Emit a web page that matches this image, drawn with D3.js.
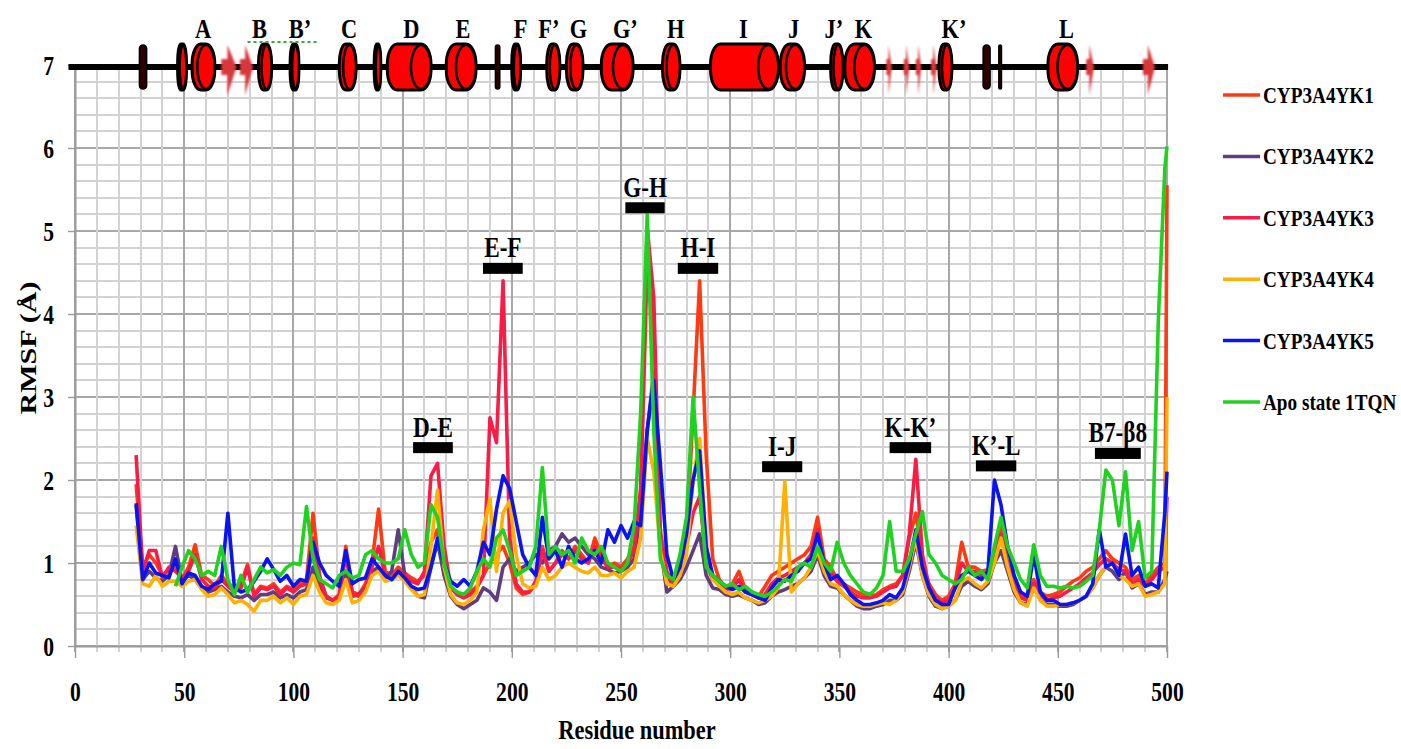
<!DOCTYPE html>
<html>
<head>
<meta charset="utf-8">
<title>RMSF per residue</title>
<style>
  body { margin: 0; background: #fff; }
  svg { font-family: "Liberation Serif", "Times New Roman", serif; font-weight: bold; }
  .grid line { shape-rendering: crispEdges; }
  .axis path, .axis line { stroke: #9a9a9a; }
</style>
</head>
<body>
<svg width="1401" height="749"></svg>
<script src="https://cdn.jsdelivr.net/npm/d3@7"></script>
<script>
// residue numbers sampled along the chain
var residues = [
  28,31,34,37,40,43,46,49,52,55,
  58,61,64,67,70,73,76,79,82,85,
  88,91,94,97,100,103,106,109,112,115,
  118,121,124,127,130,133,136,139,142,145,
  148,151,154,157,160,163,166,169,172,175,
  178,181,184,187,190,193,196,199,202,205,
  208,211,214,217,220,223,226,229,232,235,
  238,241,244,247,250,253,256,259,262,265,
  268,271,274,277,280,283,286,289,292,295,
  298,301,304,307,310,313,316,319,322,325,
  328,331,334,337,340,343,346,349,352,355,
  358,361,364,367,370,373,376,379,382,385,
  388,391,394,397,400,403,406,409,412,415,
  418,421,424,427,430,433,436,439,442,445,
  448,451,454,457,460,463,466,469,472,475,
  478,481,484,487,490,493,496,499,500
];

// RMSF (Å) for each system, one value per residue above
var yk1 = [
  1.95,0.95,1.1,1.0,0.85,0.92,0.95,0.8,0.95,1.22,
  0.85,0.8,0.72,0.85,0.75,0.7,0.75,0.98,0.62,0.72,
  0.7,0.75,0.65,0.72,0.68,0.75,0.8,1.6,0.85,0.6,
  0.55,0.62,1.2,0.65,0.62,0.75,1.0,1.65,0.9,0.85,
  0.95,0.88,0.82,0.78,0.85,1.25,1.4,1.0,0.7,0.62,
  0.6,0.65,0.72,0.85,1.0,1.1,1.2,1.0,0.7,0.62,
  0.65,0.75,1.2,0.9,1.0,1.15,1.05,1.2,1.1,1.0,
  1.3,1.1,0.95,1.0,0.95,1.05,1.2,1.8,4.6,3.8,
  1.4,0.9,0.75,0.95,1.3,2.8,4.4,2.3,1.05,0.8,
  0.7,0.75,0.9,0.68,0.65,0.6,0.72,0.85,0.9,0.95,
  1.0,1.05,1.1,1.2,1.55,1.05,0.95,0.8,0.75,0.7,
  0.65,0.62,0.6,0.62,0.68,0.72,0.75,0.85,1.3,1.6,
  1.0,0.75,0.62,0.55,0.6,0.75,1.25,0.95,0.95,0.9,
  0.92,1.1,1.45,1.0,0.75,0.6,0.58,0.8,0.65,0.6,
  0.62,0.65,0.72,0.78,0.82,0.9,0.95,1.05,1.15,1.05,
  1.0,0.95,0.8,0.85,0.75,0.85,0.95,1.0,5.55
];
var yk2 = [
  1.7,0.8,0.9,0.82,0.78,0.85,1.2,0.78,0.85,0.8,
  0.7,0.65,0.68,0.72,0.65,0.6,0.58,0.62,0.55,0.62,
  0.62,0.65,0.58,0.62,0.58,0.65,0.68,0.95,0.72,0.58,
  0.55,0.58,0.9,0.6,0.62,0.7,0.9,0.95,0.82,0.9,
  1.4,0.85,0.7,0.6,0.58,0.95,1.25,0.85,0.6,0.5,
  0.45,0.5,0.55,0.7,0.65,0.55,0.95,1.05,0.9,0.95,
  1.0,1.1,1.0,1.15,1.2,1.35,1.25,1.3,1.2,1.1,
  1.05,0.95,0.92,0.88,0.9,0.95,1.05,1.6,2.6,3.3,
  1.2,0.65,0.72,0.8,0.95,1.15,1.35,0.85,0.7,0.68,
  0.62,0.6,0.62,0.58,0.55,0.5,0.52,0.6,0.65,0.68,
  0.72,0.75,0.82,0.9,1.1,0.85,0.72,0.7,0.62,0.55,
  0.48,0.45,0.45,0.48,0.5,0.55,0.55,0.62,0.9,1.25,
  0.85,0.6,0.48,0.45,0.48,0.55,0.72,0.78,0.72,0.68,
  0.75,1.0,1.15,0.9,0.65,0.52,0.5,0.75,0.55,0.5,
  0.5,0.48,0.48,0.5,0.55,0.6,0.7,0.85,0.95,0.9,
  0.8,0.9,0.7,0.75,0.62,0.65,0.65,0.8,0.9
];
var yk3 = [
  2.3,0.9,1.15,1.15,0.82,0.95,0.9,0.82,0.9,1.1,
  0.8,0.72,0.7,0.8,0.72,0.65,0.7,0.95,0.6,0.7,
  0.68,0.72,0.62,0.7,0.65,0.72,0.75,1.3,0.8,0.6,
  0.55,0.6,1.1,0.62,0.6,0.7,0.95,1.2,0.85,0.8,
  0.9,0.85,0.78,0.75,0.9,2.05,2.2,1.2,0.72,0.62,
  0.58,0.62,0.7,0.85,2.75,2.45,4.4,1.3,0.75,0.65,
  0.65,0.78,1.15,0.9,1.0,1.1,1.05,1.15,1.05,1.0,
  1.2,1.05,0.95,0.95,0.92,1.0,1.15,1.9,5.05,4.2,
  1.3,0.85,0.72,0.9,1.2,1.6,1.8,1.0,0.8,0.75,
  0.68,0.7,0.8,0.65,0.62,0.58,0.62,0.75,0.82,0.85,
  0.9,0.95,1.0,1.1,1.4,1.0,0.88,0.78,0.72,0.65,
  0.6,0.58,0.58,0.6,0.65,0.7,0.72,0.85,1.35,2.25,
  1.1,0.72,0.58,0.52,0.55,0.7,1.0,0.9,0.9,0.85,
  0.88,1.05,1.35,0.95,0.7,0.58,0.55,0.75,0.62,0.55,
  0.58,0.6,0.65,0.7,0.75,0.82,0.88,0.98,1.05,1.0,
  0.92,0.9,0.75,0.8,0.72,0.8,0.9,0.95,1.8
];
var yk4 = [
  1.45,0.75,0.72,0.85,0.72,0.78,0.78,0.72,0.78,0.8,
  0.68,0.6,0.62,0.7,0.62,0.52,0.55,0.5,0.42,0.55,
  0.55,0.6,0.52,0.58,0.5,0.6,0.62,0.85,0.65,0.52,
  0.5,0.55,0.8,0.52,0.55,0.65,0.85,0.9,0.78,0.8,
  0.85,0.78,0.68,0.6,0.62,1.2,1.88,0.95,0.62,0.52,
  0.5,0.55,0.65,1.4,1.78,0.9,1.6,1.75,1.1,0.75,
  0.7,0.72,0.95,0.8,0.85,0.95,1.0,0.95,0.9,0.88,
  0.95,0.85,0.85,0.88,0.82,0.9,0.95,1.3,2.5,2.1,
  1.15,0.75,0.72,0.85,1.1,2.0,2.5,1.2,0.8,0.72,
  0.65,0.62,0.65,0.58,0.55,0.52,0.55,0.6,0.7,1.98,
  0.65,0.75,0.82,0.95,1.15,0.9,0.75,0.72,0.62,0.55,
  0.5,0.48,0.48,0.5,0.52,0.5,0.55,0.65,0.95,1.3,
  0.85,0.62,0.5,0.45,0.48,0.55,0.78,0.82,0.75,0.7,
  0.78,1.0,1.3,0.95,0.68,0.52,0.48,0.7,0.55,0.48,
  0.48,0.5,0.5,0.52,0.55,0.6,0.7,0.85,0.95,1.0,
  0.85,0.8,0.72,0.75,0.6,0.62,0.65,0.75,3.0
];
var yk5 = [
  1.72,0.8,1.0,0.88,0.85,0.82,1.05,0.75,0.88,0.85,
  0.72,0.68,0.75,0.78,1.6,0.7,0.65,0.68,0.78,0.9,
  1.05,0.92,0.78,0.85,0.72,0.8,0.78,1.25,1.0,0.85,
  0.78,0.72,1.15,0.75,0.8,0.82,1.05,0.95,0.85,0.8,
  0.9,0.82,0.72,0.68,0.7,0.95,1.3,1.0,0.78,0.72,
  0.8,0.72,0.9,1.25,1.1,1.65,2.05,1.9,1.5,1.1,
  0.95,0.85,1.55,1.05,1.15,0.95,1.2,1.05,1.0,1.05,
  1.15,1.0,1.4,1.25,1.45,1.3,1.5,1.45,2.6,3.2,
  2.2,1.1,0.8,0.95,1.35,2.0,2.35,1.2,0.85,0.78,
  0.72,0.68,0.72,0.65,0.62,0.58,0.55,0.7,0.8,0.78,
  0.85,0.9,1.0,1.05,1.35,1.0,0.8,0.85,0.75,0.62,
  0.55,0.5,0.5,0.52,0.55,0.62,0.58,0.7,1.0,1.4,
  0.95,0.7,0.55,0.5,0.5,0.7,0.85,0.9,0.85,0.8,
  0.9,2.0,1.7,1.2,0.85,0.65,0.6,1.1,0.65,0.55,
  0.55,0.5,0.5,0.52,0.55,0.6,0.75,1.4,0.95,1.0,
  0.85,1.35,0.85,0.95,0.72,0.75,0.7,1.6,2.1
];
// apo structure has no data before residue 46
var apo = [
  null,null,null,null,null,null,0.72,0.95,1.15,1.05,
  0.85,0.9,0.85,1.2,0.8,0.62,0.85,0.65,0.8,0.95,
  0.88,0.92,0.85,0.95,1.0,0.98,1.68,1.05,0.8,0.75,
  0.7,0.85,0.9,0.82,0.85,1.1,1.15,1.05,1.0,1.0,
  1.05,1.4,1.1,0.95,1.0,1.7,1.55,1.0,0.72,0.65,
  0.62,0.7,0.9,1.05,0.95,1.3,1.4,1.15,0.85,0.9,
  0.95,1.2,2.15,1.1,1.2,1.1,1.15,1.0,1.3,1.15,
  1.1,1.2,1.0,0.95,0.9,1.0,1.45,2.8,5.2,2.6,
  1.05,0.85,0.8,1.1,1.55,3.0,1.9,0.95,0.85,0.78,
  0.72,0.75,0.68,0.72,0.65,0.62,0.6,0.65,0.72,0.8,
  0.78,0.95,1.0,0.95,1.2,1.0,0.9,1.25,1.0,0.85,
  0.75,0.65,0.62,0.7,0.85,1.5,0.9,0.9,1.05,1.35,
  1.62,1.1,1.0,0.85,0.8,0.75,0.8,0.95,0.85,0.9,
  0.8,1.2,1.55,1.2,1.0,0.8,0.7,1.22,0.85,0.72,
  0.72,0.7,0.72,0.7,0.72,0.78,0.85,1.4,2.12,2.0,
  1.45,2.1,1.15,1.5,0.82,0.9,3.9,5.75,6.02
];

var seriesNames = ["CYP3A4YK1", "CYP3A4YK2", "CYP3A4YK3", "CYP3A4YK4", "CYP3A4YK5", "Apo state 1TQN"];
var seriesColors = ["#ff3a12", "#5f3d80", "#f81c47", "#ffb000", "#0a14f2", "#1fd21f"];
var seriesValues = [yk1, yk2, yk3, yk4, yk5, apo];

// secondary structure along the top (residue ranges)
var helices = [
  [47, 51], [53.6, 64], [84, 90], [98.5, 102.5], [121, 128.7], [137, 140],
  [143, 163], [170, 183.6], [200, 204], [216, 222], [225, 232.6], [241, 255.5],
  [269, 277], [291, 322], [323, 334], [346, 351.6], [352.5, 366], [395.6, 401.5],
  [445.5, 459]
];
var darkBars = [[29.5, 32.8], [192.5, 194.5], [415.8, 419], [423, 424.2]];
var strands = [[67, 74], [75.5, 81.5], [371.5, 374], [379.5, 382], [385, 387.5],
               [392, 394.5], [463, 466.6], [489, 494.5]];
var helixLabels = ["A", "B", "B\u2019", "C", "D", "E", "F", "F\u2019", "G", "G\u2019",
                   "H", "I", "J", "J\u2019", "K", "K\u2019", "L"];
var helixLabelPos = [58.6, 84.5, 103, 125.5, 154, 177.6, 204, 217, 230.5, 252,
                     275, 306, 329, 347.5, 361, 402.5, 454];

// loop annotations: label, residue span of the bar, height of the bar
var loopLabels = ["D-E", "E-F", "G-H", "H-I", "I-J", "K-K\u2019", "K\u2019-L", "B7-\u03b28"];
var loopSpans = [[154.8, 173], [186.8, 205], [252, 270], [276, 294.5],
                 [314.6, 333], [373, 392], [412.5, 431], [467, 488]];
var loopLevels = [2.39, 4.55, 5.28, 4.55, 2.16, 2.39, 2.17, 2.32];

var svg = d3.select("svg");
var x = d3.scaleLinear().domain([0, 500]).range([75, 1167]);
var y = d3.scaleLinear().domain([0, 7]).range([646, 65]);

// text in this figure is horizontally condensed
function squish(sel, tx, ty) {
  return sel.attr("transform", "translate(" + tx + "," + ty + ") scale(0.8,1)");
}

// grid
var grid = svg.append("g").attr("class", "grid");
grid.selectAll(".hminor").data(d3.range(0, 7.01, 0.2)).enter().append("line")
    .attr("x1", x(0)).attr("x2", x(500))
    .attr("y1", function(d) { return Math.round(y(d)); })
    .attr("y2", function(d) { return Math.round(y(d)); })
    .attr("stroke", function(d) { return Math.abs(d - Math.round(d)) < 1e-6 ? "#a8a8a8" : "#d2d2d2"; })
    .attr("stroke-width", 1.4);
grid.selectAll(".vminor").data(d3.range(0, 501, 10)).enter().append("line")
    .attr("x1", function(d) { return Math.round(x(d)); })
    .attr("x2", function(d) { return Math.round(x(d)); })
    .attr("y1", y(0) + 6).attr("y2", y(7))
    .attr("stroke", function(d) { return d % 50 === 0 ? "#a8a8a8" : "#d2d2d2"; })
    .attr("stroke-width", 1.4);

// axes
var xAxis = svg.append("g").attr("class", "axis")
    .attr("transform", "translate(0," + y(0) + ")")
    .call(d3.axisBottom(x).tickValues(d3.range(0, 501, 50)).tickSize(12).tickSizeOuter(0));
var yAxis = svg.append("g").attr("class", "axis")
    .attr("transform", "translate(" + x(0) + ",0)")
    .call(d3.axisLeft(y).ticks(7).tickSize(7).tickSizeOuter(0));
svg.selectAll(".axis").attr("font-family", null).attr("font-size", null);

xAxis.selectAll(".tick text")
    .attr("y", null).attr("dy", null)
    .attr("font-size", 27).attr("fill", "#000")
    .each(function() { squish(d3.select(this), 0, 55); });
yAxis.selectAll(".tick text")
    .attr("x", null).attr("dy", "0.36em")
    .attr("font-size", 27).attr("fill", "#000")
    .each(function() { squish(d3.select(this), -21, 0); });
svg.selectAll(".axis path").attr("stroke-width", 2);
svg.selectAll(".axis line").attr("stroke-width", 1.4);

// RMSF curves
var line = d3.line()
    .defined(function(d) { return d.v != null; })
    .x(function(d) { return x(d.r); })
    .y(function(d) { return y(d.v); });

var series = seriesNames.map(function(name, i) {
  return {
    name: name,
    color: seriesColors[i],
    points: residues.map(function(r, j) { return {r: r, v: seriesValues[i][j]}; })
  };
});

svg.append("g").selectAll("path").data(series).enter().append("path")
    .attr("d", function(d) { return line(d.points); })
    .attr("fill", "none")
    .attr("stroke", function(d) { return d.color; })
    .attr("stroke-width", 3.6)
    .attr("stroke-linejoin", "round");

// loop bars and labels
var loops = svg.append("g").selectAll("g").data(loopLabels).enter().append("g");
loops.append("rect")
    .attr("x", function(d, i) { return x(loopSpans[i][0]); })
    .attr("width", function(d, i) { return x(loopSpans[i][1]) - x(loopSpans[i][0]); })
    .attr("y", function(d, i) { return y(loopLevels[i]) - 5.5; })
    .attr("height", 11)
    .attr("fill", "#000");
loops.append("text")
    .attr("text-anchor", "middle")
    .attr("font-size", 29)
    .text(function(d) { return d; })
    .each(function(d, i) {
      squish(d3.select(this), x((loopSpans[i][0] + loopSpans[i][1]) / 2), y(loopLevels[i]) - 11);
    });

// secondary structure strip at RMSF = 7
var strip = svg.append("g");
var yc = y(7) + 2;
strip.append("line")
    .attr("x1", x(-3)).attr("x2", x(500.5))
    .attr("y1", yc).attr("y2", yc)
    .attr("stroke", "#000").attr("stroke-width", 6);

var blur = svg.append("defs").append("filter").attr("id", "soft")
    .attr("x", "-50%").attr("y", "-20%").attr("width", "200%").attr("height", "140%");
blur.append("feGaussianBlur").attr("stdDeviation", 1.3);

strip.selectAll(".strand").data(strands).enter().append("path")
    .attr("filter", "url(#soft)")
    .attr("fill", "#d8383a")
    .attr("d", function(d) {
      var x0 = x(d[0]), x1 = x(d[1]), xm = x0 + (x1 - x0) * 0.4;
      return "M" + x0 + "," + (yc - 8) + "L" + xm + "," + (yc - 8) + "L" + xm + "," + (yc - 22) +
             "L" + x1 + "," + yc + "L" + xm + "," + (yc + 28) + "L" + xm + "," + (yc + 8) +
             "L" + x0 + "," + (yc + 8) + "Z";
    });

strip.selectAll(".bar").data(darkBars).enter().append("rect")
    .attr("x", function(d) { return x(d[0]); })
    .attr("width", function(d) { return x(d[1]) - x(d[0]); })
    .attr("y", yc - 22).attr("height", 44)
    .attr("rx", function(d) { return (x(d[1]) - x(d[0])) / 2; })
    .attr("fill", "#2a0000").attr("stroke", "#000").attr("stroke-width", 1.5);

var helixG = strip.selectAll(".helix").data(helices).enter().append("g");
helixG.append("rect")
    .attr("x", function(d) { return x(d[0]); })
    .attr("width", function(d) { return x(d[1]) - x(d[0]); })
    .attr("y", yc - 23).attr("height", 46)
    .attr("rx", function(d) { return Math.min(10, (x(d[1]) - x(d[0])) / 2.6); })
    .attr("ry", 20)
    .attr("fill", "#ff0000").attr("stroke", "#000").attr("stroke-width", 3);
helixG.append("ellipse")
    .attr("cx", function(d) { var r = Math.min(10, (x(d[1]) - x(d[0])) / 2.6); return x(d[1]) - r; })
    .attr("cy", yc)
    .attr("rx", function(d) { return Math.min(10, (x(d[1]) - x(d[0])) / 2.6); })
    .attr("ry", 22)
    .attr("fill", "#ff0000").attr("stroke", "#000").attr("stroke-width", 2.5);

strip.selectAll(".hlabel").data(helixLabels).enter().append("text")
    .attr("text-anchor", "middle")
    .attr("font-size", 28)
    .text(function(d) { return d; })
    .each(function(d, i) { squish(d3.select(this), x(helixLabelPos[i]), 38); });

// dotted underline under B and B'
strip.append("line")
    .attr("x1", x(79)).attr("x2", x(111))
    .attr("y1", 42).attr("y2", 42)
    .attr("stroke", "#3aa83a").attr("stroke-width", 2)
    .attr("stroke-dasharray", "3,3");

// legend
var legend = svg.append("g").selectAll("g").data(series).enter().append("g")
    .attr("transform", function(d, i) { return "translate(1223," + (95 + i * 61.4) + ")"; });
legend.append("line")
    .attr("x1", 0).attr("x2", 37)
    .attr("stroke", function(d) { return d.color; })
    .attr("stroke-width", 3.5);
legend.append("text")
    .attr("font-size", 24)
    .text(function(d) { return d.name; })
    .each(function() { squish(d3.select(this), 40, 8); });

// axis titles
squish(svg.append("text").attr("text-anchor", "middle").attr("font-size", 28)
    .text("Residue number"), 637, 739);
svg.append("text")
    .attr("text-anchor", "middle")
    .attr("font-size", 30)
    .attr("transform", "translate(36,348) rotate(-90) scale(1,0.8)")
    .text("RMSF (\u00c5)");
</script>
</body>
</html>
